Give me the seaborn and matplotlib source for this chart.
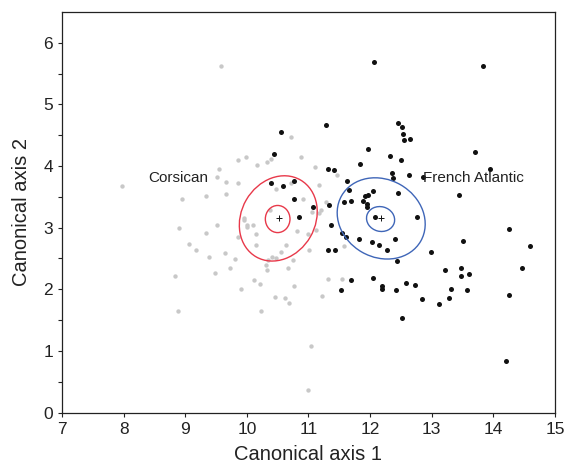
import numpy as np
import pandas as pd
import matplotlib
matplotlib.use("Agg")
import matplotlib.pyplot as plt
from matplotlib.patches import Ellipse
import seaborn as sns

# --- DATA ---
corsican_x = [7.97, 9.58, 9.85, 9.98, 9.55, 9.52, 9.66, 9.85, 8.94, 9.33,
              9.66, 8.90, 9.33, 9.52, 9.95, 9.95, 10.01, 10.01, 9.85, 9.06,
              9.18, 9.39, 9.64, 9.80, 8.83, 9.48, 9.72, 9.91, 8.89, 10.72,
              10.17, 10.33, 10.39, 10.88, 11.10, 11.47, 11.17, 10.47, 10.71, 10.91,
              11.05, 11.12, 11.20, 11.17, 11.29, 10.10, 10.37, 10.15, 10.15, 10.81,
              11.00, 10.63, 10.56, 11.01, 10.34, 10.41, 10.47, 10.75, 10.31, 10.32,
              10.66, 10.11, 10.21, 10.77, 11.32, 11.55, 10.45, 10.62, 10.68, 11.22,
              10.23, 11.57, 11.04, 10.99]
corsican_y = [3.68, 5.63, 4.09, 4.14, 3.95, 3.83, 3.74, 3.73, 3.47, 3.52,
              3.55, 3.00, 2.91, 3.05, 3.16, 3.12, 3.05, 3.01, 2.85, 2.74,
              2.63, 2.53, 2.59, 2.49, 2.22, 2.26, 2.34, 2.00, 1.64, 4.47,
              4.01, 4.07, 4.12, 4.14, 3.99, 3.85, 3.70, 3.63, 3.72, 3.47,
              3.26, 2.96, 3.28, 3.24, 3.42, 3.04, 3.28, 2.90, 2.72, 2.95,
              2.90, 2.72, 2.61, 2.63, 2.48, 2.52, 2.50, 2.47, 2.39, 2.32,
              2.35, 2.15, 2.08, 2.05, 2.17, 2.17, 1.88, 1.86, 1.78, 1.89,
              1.64, 2.71, 1.08, 0.37]

atlantic_x = [12.07, 13.83, 11.28, 10.55, 10.44, 11.96, 12.45, 12.51, 12.53, 12.55,
              12.64, 12.32, 12.50, 13.71, 13.95, 11.83, 11.31, 11.42, 12.36, 12.37,
              12.63, 12.86, 11.63, 11.66, 10.39, 10.58, 10.77, 10.77, 11.92, 11.96,
              12.04, 12.45, 13.45, 11.07, 10.84, 11.33, 11.36, 11.31, 11.43, 11.55,
              11.61, 11.82, 12.03, 12.15, 12.28, 12.08, 11.58, 11.69, 11.89, 11.95,
              11.95, 12.76, 12.41, 14.26, 13.50, 14.60, 12.99, 12.44, 13.22, 13.48,
              13.48, 13.61, 14.46, 12.58, 12.73, 12.42, 13.31, 13.57, 12.85, 13.28,
              13.12, 14.25, 12.52, 14.21, 11.69, 11.52, 12.04, 12.20, 12.20]
atlantic_y = [5.69, 5.62, 4.66, 4.55, 4.20, 4.28, 4.70, 4.63, 4.52, 4.43,
              4.44, 4.17, 4.09, 4.23, 3.95, 4.04, 3.96, 3.93, 3.88, 3.81,
              3.85, 3.83, 3.75, 3.61, 3.72, 3.68, 3.76, 3.47, 3.52, 3.53,
              3.60, 3.56, 3.53, 3.34, 3.18, 3.36, 3.04, 2.64, 2.64, 2.91,
              2.85, 2.82, 2.77, 2.72, 2.64, 3.18, 3.42, 3.43, 3.43, 3.39,
              3.33, 3.17, 2.82, 2.98, 2.78, 2.71, 2.61, 2.46, 2.32, 2.35,
              2.22, 2.24, 2.35, 2.10, 2.07, 1.99, 2.00, 1.99, 1.85, 1.86,
              1.76, 1.91, 1.54, 0.83, 2.15, 1.99, 2.18, 2.06, 2.01]

# contour ellipses: centre, full width/height, rotation (deg)
ell_cx = [10.51, 10.50, 12.18, 12.17]
ell_cy = [3.15, 3.14, 3.15, 3.14]
ell_w = [1.44, 0.40, 1.48, 0.46]
ell_h = [1.20, 0.44, 1.26, 0.40]
ell_angle = [60, 0, -30, -15]
ell_color = ["#e8394a", "#e8394a", "#3f66b8", "#3f66b8"]

centre_x = [10.52, 12.18]
centre_y = [3.15, 3.15]

group_names = ["Corsican", "French Atlantic"]
label_x = [8.40, 12.86]
label_y = [3.80, 3.80]

# --- VISUALIZATION ---
sns.set_style("ticks")
plt.rcParams["font.family"] = ["Liberation Sans", "DejaVu Sans"]

fig = plt.figure(figsize=(5.67, 4.70), dpi=100)
ax = fig.add_axes([0.1093, 0.1223, 0.8695, 0.8522])

cors = pd.DataFrame({"x": corsican_x, "y": corsican_y})
atl = pd.DataFrame({"x": atlantic_x, "y": atlantic_y})

sns.scatterplot(data=cors, x="x", y="y", ax=ax, color="#c8c8c8", s=10,
                linewidth=0, zorder=2)
sns.scatterplot(data=atl, x="x", y="y", ax=ax, color="#111111", s=13,
                linewidth=0, zorder=3)

for cx, cy, w, h, a, c in zip(ell_cx, ell_cy, ell_w, ell_h, ell_angle, ell_color):
    ax.add_patch(Ellipse((cx, cy), w, h, angle=a, fill=False,
                         edgecolor=c, linewidth=1.0, zorder=4))

ax.scatter(centre_x, centre_y, marker="+", s=18, color="#111111",
           linewidths=0.7, zorder=5)

for name, tx, ty in zip(group_names, label_x, label_y):
    ax.text(tx, ty, name, fontsize=11, color="#222222", va="center",
            ha="left", zorder=6)

ax.set_xlim(7, 15)
ax.set_ylim(0, 6.5)
ax.set_xticks(range(7, 16))
ax.set_yticks(range(0, 7))
ax.set_yticks(np.arange(0.5, 6.5, 1.0), minor=True)
ax.tick_params(axis="both", which="both", direction="out", length=3,
               width=0.8, labelsize=12.5, color="#222222", labelcolor="#222222")
for sp in ax.spines.values():
    sp.set_visible(True)
    sp.set_linewidth(0.9)
    sp.set_color("#222222")

ax.set_xlabel("Canonical axis 1", fontsize=14.5, color="#222222", labelpad=6)
ax.set_ylabel("Canonical axis 2", fontsize=14.5, color="#222222", labelpad=9)

fig.savefig("out.png", dpi=100)
